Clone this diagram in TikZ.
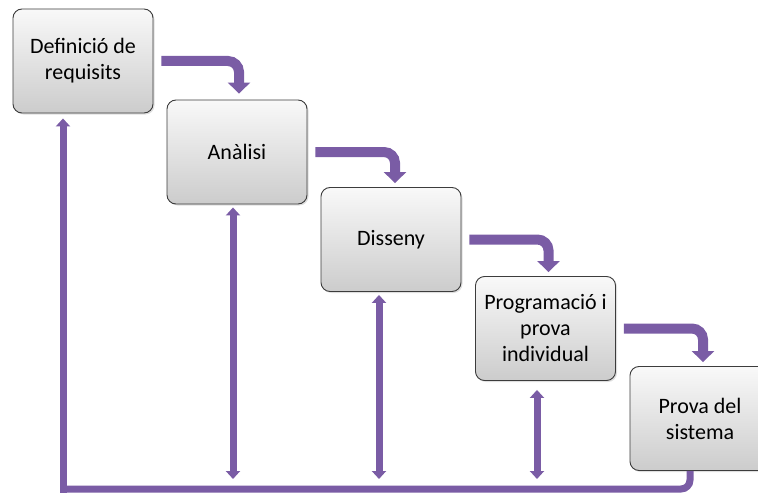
\documentclass[tikz,border=0pt]{standalone}
\usepackage{fontspec}
\setmainfont{Carlito}
\usetikzlibrary{arrows.meta,shadows}

\definecolor{lila}{RGB}{122,92,165}
\definecolor{vora}{RGB}{60,60,60}

\tikzset{
  fase/.style={draw=vora,line width=0.9pt,rounded corners=9pt,
    minimum width=140pt,minimum height=104pt,inner sep=2pt,
    top color=gray!5,bottom color=gray!40,align=center,
    font=\fontsize{22}{26}\selectfont,
    drop shadow={shadow xshift=1.5pt,shadow yshift=-1.5pt,opacity=0.25}},
  punta/.tip={Triangle[width=14pt,length=8pt]},
  flux/.style={draw=lila,line width=10pt,rounded corners=11pt,
    -{Triangle[width=22pt,length=11pt]}},
  retorn/.style={draw=lila,line width=7pt}
}

\begin{document}
\begin{tikzpicture}[x=1pt,y=-1pt]
\clip (0,0) rectangle (758,495);

\node[fase] (req) at (83,61) {Definició de\\requisits};
\node[fase] (ana) at (237,152) {Anàlisi};
\node[fase] (dis) at (391,239.5) {Disseny};
\node[fase] (pro) at (545.5,328.5) {Programació i\\prova\\individual};
\node[fase] (sis) at (700,418.5) {Prova del\\sistema};
\coordinate (base) at (63,489);

\draw[flux] ([xshift=8pt]req.east) -| ([xshift=2pt,yshift=6pt]ana.north);
\draw[flux] ([xshift=8pt]ana.east) -| ([xshift=4pt,yshift=4pt]dis.north);
\draw[flux] ([xshift=8pt]dis.east) -| ([xshift=3pt,yshift=4pt]pro.north);
\draw[flux] ([xshift=8pt]pro.east) -| ([xshift=3pt,yshift=4pt]sis.north);

\draw[retorn,rounded corners=9pt] ([xshift=-10pt]sis.south) |- (base);
\draw[retorn,-punta] ([yshift=-3.5pt]base) -- ([xshift=-20pt,yshift=-5pt]req.south);
\draw[retorn,punta-punta] ([xshift=-4pt,yshift=-3pt]ana.south) -- ([xshift=-4pt,yshift=10pt]ana.south |- base);
\draw[retorn,punta-punta] ([xshift=-12pt,yshift=-3pt]dis.south) -- ([xshift=-12pt,yshift=10pt]dis.south |- base);
\draw[retorn,punta-punta] ([xshift=-8.5pt,yshift=-9pt]pro.south) -- ([xshift=-8.5pt,yshift=10pt]pro.south |- base);
\end{tikzpicture}
\end{document}
